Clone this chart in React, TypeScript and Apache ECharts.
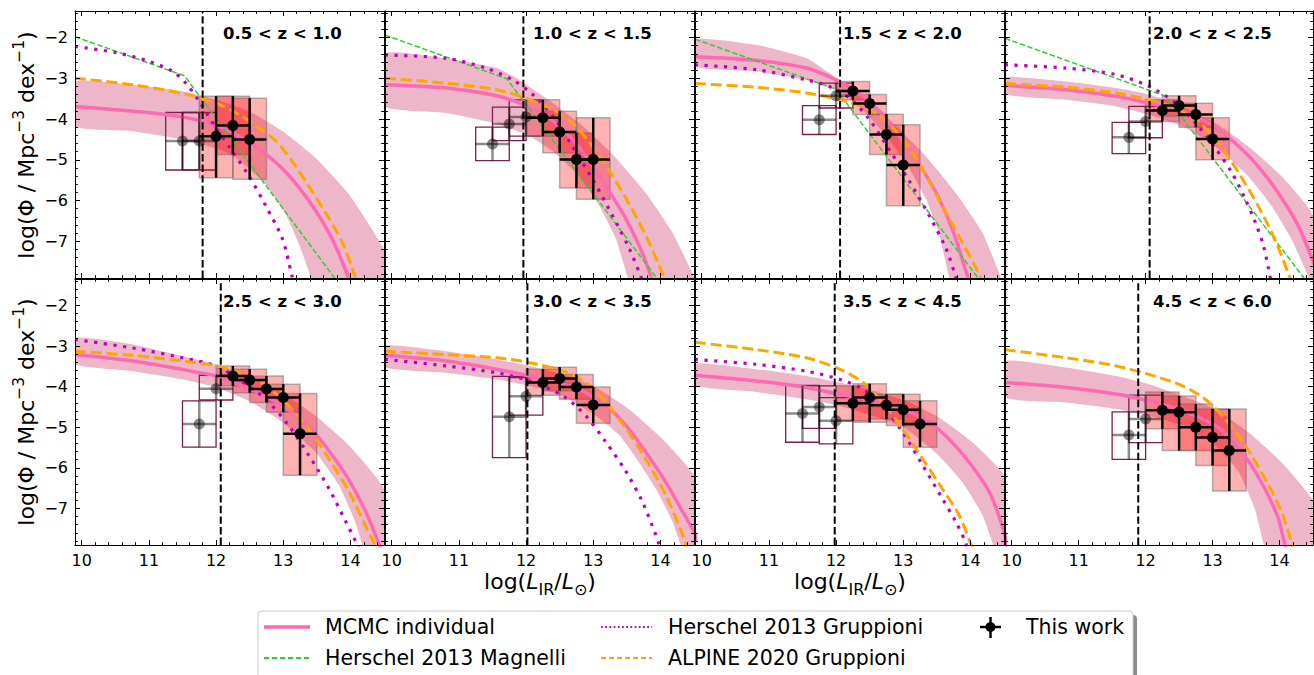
import React, { useEffect, useRef } from 'react';
import * as echarts from 'echarts';

const FONT = 'DejaVu Sans';

// ---------------- data ----------------
const PANEL_LABELS = ['0.5 < z < 1.0', '1.0 < z < 1.5', '1.5 < z < 2.0', '2.0 < z < 2.5', '2.5 < z < 3.0', '3.0 < z < 3.5', '3.5 < z < 4.5', '4.5 < z < 6.0'];
const COMPLETENESS_LIMIT = [11.8, 11.96, 12.06, 12.06, 12.07, 12.02, 11.98, 11.89];
const X_RANGE = [9.9, 14.5];
const Y_RANGE = [-7.9, -1.35];
const BIN_HALF_WIDTH = 0.25;

const MCMC_MEDIAN = [
  [[9.9,-3.69],[10.51,-3.77],[11.26,-3.89],[11.75,-4.03],[12.0,-4.16],[12.24,-4.33],[12.49,-4.57],[12.74,-4.86],[12.99,-5.22],[13.23,-5.67],[13.48,-6.24],[13.73,-6.95],[13.95,-7.8],[14.05,-8.3]],
  [[9.9,-3.16],[10.81,-3.24],[11.56,-3.43],[12.0,-3.67],[12.3,-3.93],[12.6,-4.34],[12.89,-4.91],[13.19,-5.65],[13.49,-6.46],[13.73,-7.28],[13.86,-7.87],[13.95,-8.3]],
  [[9.9,-2.47],[10.81,-2.56],[11.56,-2.75],[11.95,-3.0],[12.25,-3.27],[12.6,-3.73],[12.89,-4.3],[13.19,-4.99],[13.49,-5.81],[13.73,-6.7],[13.96,-7.87],[14.05,-8.3]],
  [[9.9,-3.18],[10.81,-3.28],[11.56,-3.44],[12.05,-3.61],[12.45,-3.77],[12.79,-3.97],[13.09,-4.26],[13.39,-4.67],[13.68,-5.16],[13.98,-5.81],[14.28,-6.62],[14.47,-7.36],[14.7,-8.3]],
  [[9.9,-3.21],[10.76,-3.37],[11.5,-3.58],[12.0,-3.74],[12.24,-3.88],[12.74,-4.23],[13.13,-4.63],[13.48,-5.16],[13.73,-5.69],[13.98,-6.3],[14.22,-7.05],[14.42,-7.85],[14.55,-8.4]],
  [[9.9,-3.23],[10.81,-3.37],[11.56,-3.57],[12.05,-3.74],[12.55,-3.94],[12.89,-4.15],[13.19,-4.47],[13.49,-4.96],[13.78,-5.61],[14.08,-6.35],[14.33,-7.08],[14.5,-7.57],[14.7,-8.3]],
  [[9.9,-3.72],[10.81,-3.86],[11.56,-4.02],[12.05,-4.19],[12.55,-4.35],[13.04,-4.59],[13.39,-4.88],[13.68,-5.29],[13.98,-5.86],[14.28,-6.59],[14.5,-7.57],[14.6,-8.3]],
  [[9.9,-3.9],[10.81,-4.02],[11.56,-4.18],[12.05,-4.35],[12.55,-4.59],[13.04,-4.96],[13.29,-5.33],[13.53,-5.82],[13.78,-6.51],[13.98,-7.24],[14.08,-7.89],[14.15,-8.3]],
];

const MCMC_UPPER = [
  [[9.9,-3.08],[10.76,-3.16],[11.5,-3.32],[12.0,-3.53],[12.49,-3.81],[12.99,-4.3],[13.48,-4.95],[13.98,-5.85],[14.47,-7.11],[14.75,-8.3]],
  [[9.9,-2.39],[10.81,-2.51],[11.56,-2.75],[11.9,-3.04],[12.3,-3.49],[12.79,-4.1],[13.29,-4.87],[13.78,-5.81],[14.18,-6.79],[14.5,-7.87],[14.6,-8.3]],
  [[9.9,-2.04],[10.81,-2.18],[11.56,-2.51],[12.05,-3.04],[12.4,-3.44],[12.79,-4.02],[13.29,-4.83],[13.78,-5.81],[14.18,-6.79],[14.45,-7.87],[14.55,-8.3]],
  [[9.9,-2.97],[10.81,-3.08],[11.56,-3.24],[12.05,-3.4],[12.55,-3.69],[13.04,-4.1],[13.53,-4.67],[14.03,-5.4],[14.48,-6.3],[15.0,-8.5]],
  [[9.9,-2.8],[10.76,-2.96],[11.5,-3.25],[12.0,-3.45],[12.49,-3.74],[12.99,-4.15],[13.48,-4.72],[13.98,-5.45],[14.47,-6.43],[15.0,-8.5]],
  [[9.9,-2.99],[10.81,-3.13],[11.56,-3.33],[12.05,-3.49],[12.55,-3.7],[13.04,-4.02],[13.53,-4.55],[14.03,-5.29],[14.5,-6.18],[15.0,-8.5]],
  [[9.9,-3.44],[10.81,-3.57],[11.56,-3.74],[12.05,-3.9],[12.55,-4.1],[13.04,-4.35],[13.53,-4.76],[14.03,-5.37],[14.5,-6.18],[15.0,-8.5]],
  [[9.9,-3.37],[10.81,-3.53],[11.56,-3.74],[12.05,-3.94],[12.55,-4.23],[13.04,-4.55],[13.53,-5.12],[14.03,-5.86],[14.48,-6.75],[15.0,-8.5]],
];

const MCMC_LOWER = [
  [[9.9,-4.18],[10.76,-4.3],[11.5,-4.5],[12.0,-4.72],[12.3,-4.95],[12.74,-5.6],[13.04,-6.35],[13.23,-7.05],[13.41,-7.87],[13.5,-8.3]],
  [[9.9,-3.69],[10.81,-3.85],[11.56,-4.11],[12.05,-4.42],[12.4,-4.79],[12.79,-5.4],[13.09,-6.13],[13.34,-6.95],[13.51,-7.87],[13.6,-8.3]],
  [[9.9,-2.71],[10.81,-2.83],[11.56,-3.04],[12.0,-3.28],[12.3,-3.61],[12.69,-4.3],[13.04,-5.07],[13.34,-5.97],[13.53,-6.79],[13.68,-7.87],[13.75,-8.3]],
  [[9.9,-3.4],[10.81,-3.53],[11.56,-3.69],[12.05,-3.89],[12.55,-4.18],[13.04,-4.67],[13.53,-5.4],[13.88,-6.13],[14.18,-6.95],[14.43,-7.87],[14.5,-8.3]],
  [[9.9,-3.45],[10.76,-3.62],[11.5,-3.82],[12.0,-4.02],[12.49,-4.35],[12.99,-4.88],[13.48,-5.61],[13.83,-6.43],[14.07,-7.32],[14.17,-7.85],[14.25,-8.3]],
  [[9.9,-3.53],[10.81,-3.66],[11.56,-3.82],[12.05,-3.98],[12.55,-4.23],[13.04,-4.72],[13.39,-5.2],[13.68,-5.86],[13.93,-6.51],[14.18,-7.32],[14.3,-7.89],[14.4,-8.3]],
  [[9.9,-3.98],[10.81,-4.13],[11.56,-4.31],[12.05,-4.47],[12.55,-4.72],[13.04,-5.04],[13.53,-5.7],[13.88,-6.35],[14.18,-7.16],[14.33,-7.85],[14.4,-8.3]],
  [[9.9,-4.27],[10.81,-4.39],[11.56,-4.55],[12.05,-4.72],[12.55,-4.96],[13.04,-5.45],[13.39,-6.1],[13.63,-7.0],[13.76,-7.85],[13.85,-8.3]],
];

const MAGNELLI_2013 = [
  [[9.9,-1.98],[11.53,-2.94],[13.75,-7.87],[13.9,-8.2]],
  [[9.9,-1.94],[11.71,-3.01],[13.93,-7.87],[14.05,-8.2]],
  [[9.9,-2.04],[12.0,-3.27],[14.1,-7.87],[14.2,-8.1]],
  [[9.9,-2.02],[12.3,-3.44],[14.35,-7.87],[14.45,-8.1]],
  null, null, null, null,
];

const GRUPPIONI_2013 = [
  [[9.9,-2.22],[10.51,-2.37],[11.01,-2.59],[11.35,-2.83],[11.55,-3.12],[11.75,-3.57],[12.0,-4.22],[12.24,-4.79],[12.49,-5.4],[12.74,-6.13],[12.99,-6.95],[13.13,-7.85],[13.2,-8.3]],
  [[9.9,-2.43],[10.81,-2.51],[11.4,-2.75],[11.8,-3.04],[12.1,-3.4],[12.4,-3.93],[12.69,-4.67],[12.99,-5.48],[13.29,-6.38],[13.54,-7.19],[13.71,-7.87],[13.8,-8.3]],
  [[9.9,-2.67],[10.81,-2.79],[11.56,-3.04],[11.9,-3.2],[12.2,-3.49],[12.5,-4.02],[12.79,-4.75],[13.09,-5.52],[13.39,-6.38],[13.64,-7.19],[13.78,-7.87],[13.85,-8.3]],
  [[9.9,-2.67],[10.81,-2.75],[11.56,-2.91],[12.05,-3.2],[12.45,-3.61],[12.79,-4.18],[13.04,-4.71],[13.29,-5.32],[13.49,-5.97],[13.64,-6.54],[13.76,-7.11],[13.86,-7.87],[13.92,-8.3]],
  [[9.9,-2.84],[10.76,-3.05],[11.5,-3.29],[12.0,-3.49],[12.34,-3.82],[12.74,-4.31],[13.08,-4.96],[13.38,-5.69],[13.68,-6.51],[13.93,-7.32],[14.1,-7.89],[14.2,-8.3]],
  [[9.9,-3.33],[10.81,-3.49],[11.56,-3.66],[12.05,-3.86],[12.55,-4.23],[12.89,-4.72],[13.19,-5.37],[13.49,-6.1],[13.73,-6.83],[13.93,-7.65],[13.98,-7.89],[14.05,-8.3]],
  [[9.9,-3.33],[10.81,-3.45],[11.56,-3.62],[12.05,-3.82],[12.4,-4.06],[12.69,-4.47],[12.99,-5.12],[13.29,-5.94],[13.58,-6.75],[13.78,-7.32],[13.93,-7.85],[14.0,-8.3]],
  null,
];

const ALPINE_2020 = [
  [[9.9,-3.0],[10.76,-3.16],[11.55,-3.39],[12.0,-3.61],[12.34,-3.89],[12.64,-4.22],[12.89,-4.54],[13.13,-5.03],[13.38,-5.65],[13.63,-6.3],[13.88,-7.03],[14.07,-7.87],[14.15,-8.3]],
  [[9.9,-3.0],[10.81,-3.12],[11.56,-3.28],[12.0,-3.49],[12.4,-3.77],[12.69,-4.1],[12.99,-4.67],[13.29,-5.4],[13.58,-6.22],[13.83,-7.03],[14.05,-7.87],[14.15,-8.3]],
  [[9.9,-3.13],[10.81,-3.22],[11.56,-3.36],[12.05,-3.53],[12.4,-3.69],[12.69,-3.97],[12.99,-4.5],[13.29,-5.24],[13.58,-6.13],[13.88,-7.03],[14.15,-7.87],[14.25,-8.3]],
  [[9.9,-3.13],[10.81,-3.22],[11.56,-3.36],[12.05,-3.53],[12.45,-3.73],[12.79,-4.06],[13.09,-4.59],[13.39,-5.32],[13.68,-6.13],[13.93,-6.95],[14.15,-7.87],[14.25,-8.3]],
  [[9.9,-3.13],[10.76,-3.23],[11.5,-3.37],[12.0,-3.49],[12.34,-3.66],[12.74,-3.98],[13.08,-4.47],[13.38,-5.04],[13.68,-5.78],[13.98,-6.59],[14.22,-7.41],[14.35,-7.85],[14.45,-8.3]],
  [[9.9,-3.13],[10.81,-3.21],[11.56,-3.29],[12.05,-3.41],[12.55,-3.62],[12.89,-3.9],[13.19,-4.39],[13.49,-5.04],[13.78,-5.78],[14.08,-6.67],[14.33,-7.65],[14.38,-7.89],[14.45,-8.3]],
  [[9.9,-2.91],[10.81,-3.09],[11.56,-3.29],[12.05,-3.57],[12.4,-3.9],[12.69,-4.39],[12.99,-5.04],[13.29,-5.78],[13.58,-6.51],[13.83,-7.16],[14.0,-7.85],[14.1,-8.3]],
  [[9.9,-3.09],[10.81,-3.29],[11.56,-3.49],[12.05,-3.7],[12.55,-3.98],[12.89,-4.31],[13.19,-4.8],[13.49,-5.45],[13.78,-6.26],[14.03,-7.08],[14.18,-7.85],[14.25,-8.3]],
];

// [log L bin centre, log Phi, lower bound, upper bound]
const THIS_WORK = [
  [[12.0,-4.42,-5.44,-3.44],[12.25,-4.16,-4.87,-3.44],[12.5,-4.5,-5.48,-3.49]],
  [[12.25,-3.97,-4.42,-3.53],[12.5,-4.32,-4.83,-3.81],[12.75,-4.99,-5.69,-4.34],[13.0,-4.99,-5.97,-3.97]],
  [[12.25,-3.31,-3.53,-3.08],[12.5,-3.62,-3.89,-3.4],[12.75,-4.38,-4.87,-3.88],[13.0,-5.13,-6.13,-4.14]],
  [[12.25,-3.79,-4.06,-3.53],[12.5,-3.67,-3.93,-3.43],[12.75,-3.89,-4.2,-3.61],[13.0,-4.49,-5.0,-3.97]],
  [[12.25,-3.74,-3.98,-3.49],[12.5,-3.84,-4.15,-3.57],[12.75,-4.06,-4.39,-3.74],[13.0,-4.27,-4.63,-3.94],[13.25,-5.16,-6.18,-4.17]],
  [[12.25,-3.9,-4.21,-3.57],[12.5,-3.8,-4.1,-3.52],[12.75,-4.01,-4.31,-3.7],[13.0,-4.45,-4.9,-4.01]],
  [[12.25,-4.41,-4.84,-3.98],[12.5,-4.27,-4.88,-3.93],[12.75,-4.46,-4.8,-4.19],[13.0,-4.57,-4.96,-4.19],[13.25,-4.92,-5.49,-4.35]],
  [[12.25,-4.58,-5.04,-4.13],[12.5,-4.63,-5.57,-4.23],[12.75,-5.0,-5.57,-4.43],[13.0,-5.25,-5.94,-4.55],[13.25,-5.57,-6.57,-4.55]],
];

const BELOW_LIMIT = [
  [[11.5,-4.54,-5.25,-3.84],[11.75,-4.54,-5.25,-3.84]],
  [[11.5,-4.61,-5.02,-4.2],[11.75,-4.12,-4.53,-3.71],[12.0,-3.95,-4.42,-3.53]],
  [[11.75,-4.02,-4.38,-3.67],[12.0,-3.43,-3.73,-3.12]],
  [[11.75,-4.45,-4.85,-4.08],[12.0,-4.06,-4.46,-3.69]],
  [[11.75,-4.92,-5.49,-4.35],[12.0,-4.05,-4.33,-3.72]],
  [[11.75,-4.74,-5.75,-3.75],[12.0,-4.24,-4.7,-3.78]],
  [[11.5,-4.66,-5.37,-3.97],[11.75,-4.5,-5.03,-3.98],[12.0,-4.84,-5.41,-4.27]],
  [[11.75,-5.19,-5.79,-4.62],[12.0,-4.8,-5.38,-4.21]],
];

// ---------------- styling / layout ----------------
const GRID_LEFTS = [75, 385, 695, 1005];
const GRID_WIDTHS = [309, 309, 309, 308];
const ROW_TOPS = [11, 279];
const ROW_HEIGHTS = [267, 266];

const C = {
  mcmc: '#ff69b4',
  band: 'rgba(219,112,147,0.5)',
  magnelli: '#32cd32',
  gruppioni: '#bf00bf',
  alpine: '#ffa500',
  box: 'rgba(255,0,0,0.3)',
  boxEdge: 'rgba(110,110,110,0.5)',
  maroon: '#7f1d4f',
  gray: 'rgba(0,0,0,0.45)',
};

const minusFmt = (v: number) => String(v).replace('-', '\u2212');

function makeAxis(dim: 'x' | 'y', gridIndex: number, position: string, major: boolean, labels: boolean) {
  const [min, max] = dim === 'x' ? X_RANGE : Y_RANGE;
  const step = major ? 1 : 0.2;
  return {
    type: 'value', gridIndex, position, min, max, minInterval: step, maxInterval: step, z: 6,
    axisLine: { show: major, onZero: false, lineStyle: { color: '#000', width: 1 } },
    axisTick: { show: true, inside: true, length: major ? 5 : 2.8, lineStyle: { color: '#000', width: 1 } },
    axisLabel: { show: labels, showMinLabel: false, showMaxLabel: false, fontSize: 16, fontFamily: FONT, color: '#000', margin: 7, formatter: minusFmt },
    splitLine: { show: false }, minorTick: { show: false }, minorSplitLine: { show: false },
  };
}

function errRenderer(color: string, radius: number) {
  return (_p: any, api: any) => {
    const x = api.value(0), y = api.value(1), lo = api.value(2), hi = api.value(3);
    const c = api.coord([x, y]);
    const l = api.coord([x - BIN_HALF_WIDTH, y]);
    const r = api.coord([x + BIN_HALF_WIDTH, y]);
    const t = api.coord([x, hi]);
    const b = api.coord([x, lo]);
    return {
      type: 'group',
      children: [
        { type: 'line', shape: { x1: l[0], y1: c[1], x2: r[0], y2: c[1] }, style: { stroke: color, lineWidth: 2.5 } },
        { type: 'line', shape: { x1: c[0], y1: t[1], x2: c[0], y2: b[1] }, style: { stroke: color, lineWidth: 2.5 } },
        { type: 'circle', shape: { cx: c[0], cy: c[1], r: radius }, style: { fill: color } },
      ],
    };
  };
}

function boxRenderer(fill: string, stroke: string, lw: number) {
  return (_p: any, api: any) => {
    const x = api.value(0), lo = api.value(2), hi = api.value(3);
    const a = api.coord([x - BIN_HALF_WIDTH, hi]);
    const b = api.coord([x + BIN_HALF_WIDTH, lo]);
    return { type: 'rect', shape: { x: a[0], y: a[1], width: b[0] - a[0], height: b[1] - a[1] }, style: { fill, stroke, lineWidth: lw } };
  };
}

function buildOption() {
  const grid: any[] = [], xAxis: any[] = [], yAxis: any[] = [], series: any[] = [], graphic: any[] = [];
  for (let i = 0; i < 8; i++) {
    const row = Math.floor(i / 4), col = i % 4;
    grid.push({ left: GRID_LEFTS[col], top: ROW_TOPS[row], width: GRID_WIDTHS[col], height: ROW_HEIGHTS[row], containLabel: false, outerBoundsMode: 'none', show: false });
    const ax = xAxis.length, ay = yAxis.length;
    xAxis.push(makeAxis('x', i, 'bottom', true, row === 1), makeAxis('x', i, 'bottom', false, false), makeAxis('x', i, 'top', true, false), makeAxis('x', i, 'top', false, false));
    yAxis.push(makeAxis('y', i, 'left', true, col === 0), makeAxis('y', i, 'left', false, false), makeAxis('y', i, 'right', true, false), makeAxis('y', i, 'right', false, false));
    const on = { xAxisIndex: ax, yAxisIndex: ay, silent: true };

    const upper = MCMC_UPPER[i], lower = MCMC_LOWER[i];
    series.push({
      ...on, type: 'custom', clip: true, z: 1, data: [upper[0]],
      renderItem: (_p: any, api: any) => ({
        type: 'polygon',
        shape: { points: [...upper.map((q) => api.coord(q)), ...lower.slice().reverse().map((q) => api.coord(q))], smooth: 0.15 },
        style: { fill: C.band },
      }),
    });
    series.push({ ...on, type: 'custom', z: 2, data: BELOW_LIMIT[i], renderItem: boxRenderer('none', C.maroon, 1.3) });
    series.push({ ...on, type: 'custom', z: 2, data: THIS_WORK[i], renderItem: boxRenderer(C.box, C.boxEdge, 1.5) });
    series.push({ ...on, type: 'line', z: 3, data: MCMC_MEDIAN[i], symbol: 'none', smooth: 0.3, lineStyle: { color: C.mcmc, width: 3.5 } });
    if (MAGNELLI_2013[i]) series.push({ ...on, type: 'line', z: 3, data: MAGNELLI_2013[i], symbol: 'none', lineStyle: { color: C.magnelli, width: 1.5, type: [5.5, 2.4] } });
    if (GRUPPIONI_2013[i]) series.push({ ...on, type: 'line', z: 3, data: GRUPPIONI_2013[i], symbol: 'none', smooth: 0.3, lineStyle: { color: C.gruppioni, width: 3.2, type: [3.2, 6.5] } });
    series.push({ ...on, type: 'line', z: 3, data: ALPINE_2020[i], symbol: 'none', smooth: 0.3, lineStyle: { color: C.alpine, width: 3, type: [11, 4.8] } });
    series.push({ ...on, type: 'line', z: 3, data: [[COMPLETENESS_LIMIT[i], Y_RANGE[0]], [COMPLETENESS_LIMIT[i], Y_RANGE[1]]], symbol: 'none', lineStyle: { color: '#000', width: 2, type: [7.4, 3.2] } });
    series.push({ ...on, type: 'custom', z: 4, data: BELOW_LIMIT[i], renderItem: errRenderer(C.gray, 5.5) });
    series.push({ ...on, type: 'custom', z: 5, data: THIS_WORK[i], renderItem: errRenderer('#000', 5.5) });

    graphic.push({
      type: 'text', x: GRID_LEFTS[col] + 148, y: ROW_TOPS[row] + 22, z: 50,
      style: { text: PANEL_LABELS[i], fontFamily: FONT, fontSize: 16.5, fontWeight: 'bold', fill: '#000', align: 'left', verticalAlign: 'middle' },
    });
  }

  const yRich = {
    a: { fontFamily: FONT, fontSize: 22, lineHeight: 30, fill: '#000' },
    s: { fontFamily: FONT, fontSize: 15.5, verticalAlign: 'top', fill: '#000' },
  };
  [145, 412].forEach((cy) => graphic.push({
    type: 'text', x: 26, y: cy, rotation: Math.PI / 2, z: 50,
    style: { text: '{a|log(Φ / Mpc}{s|\u22123}{a| dex}{s|\u22121}{a|)}', rich: yRich, align: 'center', verticalAlign: 'middle' },
  }));
  const xRich = {
    a: { fontFamily: FONT, fontSize: 22, lineHeight: 32, fill: '#000' },
    i: { fontFamily: FONT, fontSize: 22, lineHeight: 32, fontStyle: 'italic', fill: '#000' },
    s: { fontFamily: FONT, fontSize: 16, verticalAlign: 'bottom', fill: '#000' },
  };
  [540, 850].forEach((cx) => graphic.push({
    type: 'text', x: cx, y: 581, z: 50,
    style: { text: '{a|log(}{i|L}{s|IR}{a|/}{i|L}{s|⊙}{a|)}', rich: xRich, align: 'center', verticalAlign: 'middle' },
  }));

  // legend
  graphic.push({ type: 'rect', z: 60, shape: { x: 262, y: 615, width: 875, height: 90, r: 4 }, style: { fill: '#8c8c8c' } });
  graphic.push({ type: 'rect', z: 61, shape: { x: 258, y: 611, width: 875, height: 90, r: 4 }, style: { fill: '#fff', stroke: '#cccccc', lineWidth: 1 } });
  const legendLines = [
    { x1: 264, x2: 310, y: 627, color: C.mcmc, width: 3.5, dash: null as any, label: 'MCMC individual', tx: 325 },
    { x1: 264, x2: 310, y: 658, color: C.magnelli, width: 1.8, dash: [5, 3], label: 'Herschel 2013 Magnelli', tx: 325 },
    { x1: 601, x2: 652, y: 627, color: C.gruppioni, width: 1.8, dash: [1.8, 2.4], label: 'Herschel 2013 Gruppioni', tx: 668 },
    { x1: 601, x2: 652, y: 658, color: C.alpine, width: 1.8, dash: [5, 3], label: 'ALPINE 2020 Gruppioni', tx: 668 },
  ];
  legendLines.forEach((l) => {
    graphic.push({ type: 'line', z: 62, shape: { x1: l.x1, y1: l.y, x2: l.x2, y2: l.y }, style: { stroke: l.color, lineWidth: l.width, lineDash: l.dash } });
    graphic.push({ type: 'text', z: 62, x: l.tx, y: l.y, style: { text: l.label, fontFamily: FONT, fontSize: 20.5, fill: '#000', align: 'left', verticalAlign: 'middle' } });
  });
  graphic.push({ type: 'line', z: 62, shape: { x1: 980, y1: 627, x2: 1001, y2: 627 }, style: { stroke: '#000', lineWidth: 2.5 } });
  graphic.push({ type: 'line', z: 62, shape: { x1: 990.5, y1: 617, x2: 990.5, y2: 638 }, style: { stroke: '#000', lineWidth: 2.5 } });
  graphic.push({ type: 'circle', z: 62, shape: { cx: 990.5, cy: 627, r: 5 }, style: { fill: '#000' } });
  graphic.push({ type: 'text', z: 62, x: 1026, y: 627, style: { text: 'This work', fontFamily: FONT, fontSize: 20.5, fill: '#000', align: 'left', verticalAlign: 'middle' } });

  return { animation: false, backgroundColor: '#fff', grid, xAxis, yAxis, series, graphic };
}

export default function App() {
  const ref = useRef<HTMLDivElement>(null);
  useEffect(() => {
    const chart = echarts.init(ref.current as HTMLDivElement, null, { renderer: 'svg' });
    chart.setOption(buildOption() as any);
    return () => chart.dispose();
  }, []);
  return <div ref={ref} style={{ position: 'fixed', left: 0, top: 0, width: 1314, height: 675, background: '#fff' }} />;
}
